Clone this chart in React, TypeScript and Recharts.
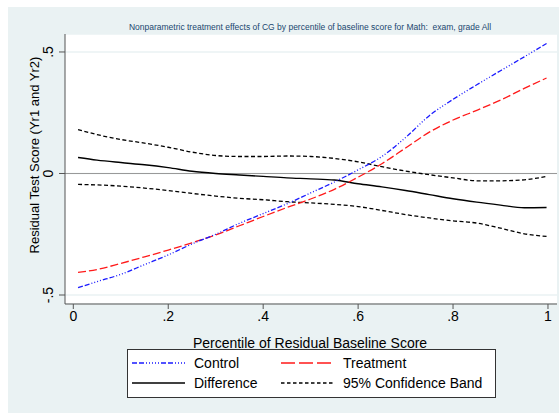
import React from 'react';
import { LineChart, Line, XAxis, YAxis, CartesianGrid, ReferenceLine, Legend, Customized } from 'recharts';

const xs = [0.01, 0.05, 0.1, 0.15, 0.2, 0.25, 0.3, 0.35, 0.4, 0.45, 0.5, 0.55, 0.6, 0.65, 0.7, 0.75, 0.8, 0.85, 0.9, 0.95, 0.997];
const control = [-0.47, -0.445, -0.415, -0.375, -0.335, -0.29, -0.25, -0.205, -0.165, -0.125, -0.08, -0.035, 0.015, 0.07, 0.148, 0.238, 0.305, 0.365, 0.423, 0.48, 0.535];
const treatment = [-0.407, -0.395, -0.37, -0.343, -0.315, -0.285, -0.253, -0.215, -0.177, -0.14, -0.105, -0.065, -0.015, 0.04, 0.105, 0.17, 0.22, 0.26, 0.302, 0.35, 0.393];
const difference = [0.066, 0.055, 0.045, 0.036, 0.024, 0.009, 0.0, -0.006, -0.012, -0.018, -0.022, -0.027, -0.042, -0.055, -0.07, -0.087, -0.104, -0.118, -0.13, -0.141, -0.14];
const upperBand = [0.181, 0.16, 0.14, 0.125, 0.108, 0.088, 0.074, 0.07, 0.07, 0.072, 0.07, 0.062, 0.048, 0.028, 0.01, -0.005, -0.018, -0.03, -0.03, -0.026, -0.012];
const lowerBand = [-0.045, -0.047, -0.052, -0.06, -0.07, -0.082, -0.093, -0.102, -0.108, -0.116, -0.121, -0.127, -0.136, -0.152, -0.169, -0.183, -0.195, -0.204, -0.225, -0.248, -0.259];

const yTicks = [-0.5, 0, 0.5];
const yTickLabels = ['-.5', '0', '.5'];
const xTicks = [0, 0.2, 0.4, 0.6, 0.8, 1];
const xTickLabels = ['0', '.2', '.4', '.6', '.8', '1'];

const title = 'Nonparametric treatment effects of CG by percentile of baseline score for Math:  exam, grade All';
const xTitle = 'Percentile of Residual Baseline Score';
const yTitle = 'Residual Test Score (Yr1 and Yr2)';
const seriesNames = ['Control', 'Treatment', 'Difference', '95% Confidence Band'];

const data = xs.map((x, i) => ({
  x,
  control: control[i],
  treatment: treatment[i],
  difference: difference[i],
  upper: upperBand[i],
  lower: lowerBand[i],
}));

const FONT = '"Liberation Sans", Arial, sans-serif';
const BG = '#eaf2f3';
const FS = 14;

const YTick = (props: any) => {
  const { x, y, payload } = props;
  const idx = yTicks.indexOf(payload.value);
  const cx = x - 9;
  return (
    <text x={cx} y={y} transform={`rotate(-90, ${cx}, ${y})`} textAnchor="middle" dominantBaseline="central"
      fontSize={FS} fontFamily={FONT} fill="#000">
      {idx >= 0 ? yTickLabels[idx] : payload.value}
    </text>
  );
};

const XTick = (props: any) => {
  const { x, y, payload } = props;
  const idx = xTicks.indexOf(payload.value);
  return (
    <text x={x} y={y + 5} textAnchor="middle" dominantBaseline="central" fontSize={FS} fontFamily={FONT} fill="#000">
      {idx >= 0 ? xTickLabels[idx] : payload.value}
    </text>
  );
};

const LegendBox = () => (
  <svg width={369} height={49} style={{ display: 'block' }}>
    <rect x={0.5} y={0.5} width={368} height={48} fill="#fff" stroke="#333" strokeWidth={1} />
    <line x1={5} x2={58} y1={14} y2={14} stroke="#1a1aff" strokeWidth={1.3} strokeDasharray="5 2 5 2 1 2 1 2 1 2 1 2 1 2" />
    <text x={67} y={14} dominantBaseline="central" fontSize={FS} fontFamily={FONT} fill="#000">{seriesNames[0]}</text>
    <line x1={154} x2={206} y1={14} y2={14} stroke="#ff1a1a" strokeWidth={1.3} strokeDasharray="14 4" />
    <text x={216} y={14} dominantBaseline="central" fontSize={FS} fontFamily={FONT} fill="#000">{seriesNames[1]}</text>
    <line x1={5} x2={58} y1={34} y2={34} stroke="#000" strokeWidth={1.3} />
    <text x={67} y={34} dominantBaseline="central" fontSize={FS} fontFamily={FONT} fill="#000">{seriesNames[2]}</text>
    <line x1={154} x2={206} y1={34} y2={34} stroke="#000" strokeWidth={1.3} strokeDasharray="3.5 2.5" />
    <text x={216} y={34} dominantBaseline="central" fontSize={FS} fontFamily={FONT} fill="#000">{seriesNames[3]}</text>
  </svg>
);

const Title = () => (
  <text x={310} y={27} textAnchor="middle" dominantBaseline="central" fontSize={8.5} fontFamily={FONT} fill="#1a476f"
    style={{ whiteSpace: 'pre' }}>
    {title}
  </text>
);

export default function App() {
  return (
    <div style={{ position: 'absolute', left: 0, top: 0, width: 559, height: 413, background: '#fff' }}>
      <div style={{ position: 'absolute', left: 8, top: 7, width: 551, height: 406, background: BG }} />
      <div style={{ position: 'absolute', left: 0, top: 0 }}>
        <LineChart width={559} height={413} data={data} margin={{ top: 34, right: 2, bottom: 0, left: 0 }}>
          <CartesianGrid horizontal={true} vertical={false} stroke={BG} strokeWidth={1.5} fill="#fff" />
          <ReferenceLine y={0} stroke="#999" strokeWidth={1.2} />
          <XAxis
            dataKey="x"
            type="number"
            domain={[-0.0175, 1.019]}
            ticks={xTicks}
            allowDataOverflow
            height={109}
            tickSize={5}
            tickMargin={2}
            stroke="#555"
            tickLine={{ stroke: '#555' }}
            tick={<XTick />}
            label={(p: any) => {
              const vb = p.viewBox || {};
              return (
                <text x={vb.x + vb.width / 2 - 1} y={343} textAnchor="middle" dominantBaseline="central" fontSize={FS} fontFamily={FONT} fill="#000">
                  {xTitle}
                </text>
              );
            }}
          />
          <YAxis
            type="number"
            domain={[-0.537, 0.574]}
            ticks={yTicks}
            allowDataOverflow
            width={65}
            tickSize={6}
            tickMargin={2}
            stroke="#555"
            tickLine={{ stroke: '#555' }}
            tick={<YTick />}
            label={() => (
              <text x={34} y={155} transform="rotate(-90, 34, 155)" textAnchor="middle" dominantBaseline="central" fontSize={13} fontFamily={FONT} fill="#000">
                {yTitle}
              </text>
            )}
          />
          <Line type="monotone" dataKey="upper" stroke="#000" strokeWidth={1.3} strokeDasharray="4 2.5" dot={false} isAnimationActive={false} />
          <Line type="monotone" dataKey="lower" stroke="#000" strokeWidth={1.3} strokeDasharray="4 2.5" dot={false} isAnimationActive={false} />
          <Line type="monotone" dataKey="difference" stroke="#000" strokeWidth={1.4} dot={false} isAnimationActive={false} />
          <Line type="monotone" dataKey="treatment" stroke="#ff1a1a" strokeWidth={1.3} strokeDasharray="8 3" dot={false} isAnimationActive={false} />
          <Line type="monotone" dataKey="control" stroke="#1a1aff" strokeWidth={1.3} strokeDasharray="5 2 5 2 1 2 1 2 1 2 1 2" dot={false} isAnimationActive={false} />
          <Legend
            layout="horizontal"
            verticalAlign="middle"
            align="center"
            content={() => <LegendBox />}
            wrapperStyle={{ left: 127, top: 349, width: 369, height: 49, bottom: 'auto', right: 'auto' }}
          />
          <Customized component={Title} />
        </LineChart>
      </div>
    </div>
  );
}
